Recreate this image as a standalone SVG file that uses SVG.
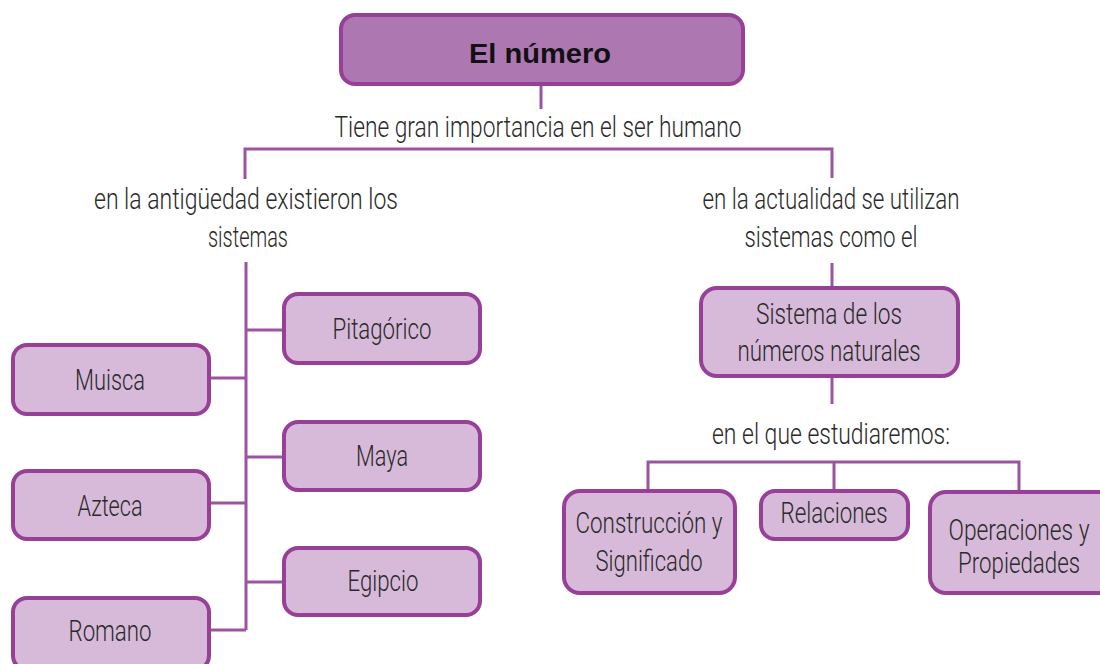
<svg xmlns="http://www.w3.org/2000/svg" width="1100" height="664" viewBox="0 0 1100 664">
<style>
.box{fill:#d7bad9;stroke:#983f97;stroke-width:4}
.top{fill:#ad77b2;stroke:#983f97;stroke-width:4}
.ln{fill:none;stroke:#9b55a0;stroke-width:3}
.t{font-family:Roboto,"Liberation Sans",sans-serif;font-weight:300;font-size:30px;fill:#2a2a2a;text-anchor:middle}
.title{font-family:"Liberation Sans",Arial,sans-serif;font-weight:bold;font-size:28px;fill:#111;text-anchor:middle}
</style>
<rect width="1100" height="664" fill="#fff"/>
<g id="connectors">
<path class="ln" d="M541 84V109"/>
<path class="ln" d="M245 179V149H832V178"/>
<path class="ln" d="M246 262V630"/>
<path class="ln" d="M246 330H283M209 378H246M246 457H283M209 503H246M246 582H283M209 630H246"/>
<path class="ln" d="M832 263V287"/>
<path class="ln" d="M832 376V404"/>
<path class="ln" d="M648 490V462H1019V492M834 462V490"/>
</g>
<g id="labels">
<text class="t" x="538" y="137" textLength="407" lengthAdjust="spacingAndGlyphs">Tiene gran importancia en el ser humano</text>
<text class="t" x="246" y="209" textLength="304" lengthAdjust="spacingAndGlyphs">en la antigüedad existieron los</text>
<text class="t" x="248" y="247" textLength="80" lengthAdjust="spacingAndGlyphs">sistemas</text>
<text class="t" x="831" y="209" textLength="257" lengthAdjust="spacingAndGlyphs">en la actualidad se utilizan</text>
<text class="t" x="831" y="247" textLength="173" lengthAdjust="spacingAndGlyphs">sistemas como el</text>
<text class="t" x="831" y="444" textLength="238" lengthAdjust="spacingAndGlyphs">en el que estudiaremos:</text>
</g>
<g id="n-numero">
<rect class="top" x="341" y="15" width="402" height="69" rx="14"/>
<text class="title" x="540" y="63" textLength="142" lengthAdjust="spacingAndGlyphs">El número</text>
</g>
<g id="n-pitagorico">
<rect class="box" x="284" y="294" width="196" height="69" rx="14"/>
<text class="t" x="382" y="339" textLength="99" lengthAdjust="spacingAndGlyphs">Pitagórico</text>
</g>
<g id="n-muisca">
<rect class="box" x="13" y="345" width="196" height="69" rx="14"/>
<text class="t" x="110" y="390" textLength="70" lengthAdjust="spacingAndGlyphs">Muisca</text>
</g>
<g id="n-maya">
<rect class="box" x="284" y="422" width="196" height="68" rx="14"/>
<text class="t" x="382" y="466" textLength="52" lengthAdjust="spacingAndGlyphs">Maya</text>
</g>
<g id="n-azteca">
<rect class="box" x="13" y="471" width="196" height="68" rx="14"/>
<text class="t" x="110" y="516" textLength="65" lengthAdjust="spacingAndGlyphs">Azteca</text>
</g>
<g id="n-egipcio">
<rect class="box" x="284" y="548" width="196" height="67" rx="14"/>
<text class="t" x="383" y="591" textLength="71" lengthAdjust="spacingAndGlyphs">Egipcio</text>
</g>
<g id="n-romano">
<rect class="box" x="13" y="598" width="196" height="72" rx="14"/>
<text class="t" x="110" y="641" textLength="83" lengthAdjust="spacingAndGlyphs">Romano</text>
</g>
<g id="n-sistema">
<rect class="box" x="701" y="288" width="257" height="88" rx="16"/>
<text class="t" x="829" y="324" textLength="146" lengthAdjust="spacingAndGlyphs">Sistema de los</text>
<text class="t" x="829" y="361" textLength="183" lengthAdjust="spacingAndGlyphs">números naturales</text>
</g>
<g id="n-construccion">
<rect class="box" x="564" y="491" width="171" height="102" rx="16"/>
<text class="t" x="649" y="533" textLength="147" lengthAdjust="spacingAndGlyphs">Construcción y</text>
<text class="t" x="649" y="571" textLength="107" lengthAdjust="spacingAndGlyphs">Significado</text>
</g>
<g id="n-relaciones">
<rect class="box" x="761" y="491" width="147" height="48" rx="14"/>
<text class="t" x="834" y="523" textLength="107" lengthAdjust="spacingAndGlyphs">Relaciones</text>
</g>
<g id="n-operaciones">
<rect class="box" x="930" y="492" width="185" height="101" rx="16"/>
<text class="t" x="1019" y="540" textLength="141" lengthAdjust="spacingAndGlyphs">Operaciones y</text>
<text class="t" x="1019" y="573" textLength="122" lengthAdjust="spacingAndGlyphs">Propiedades</text>
</g>
</svg>
